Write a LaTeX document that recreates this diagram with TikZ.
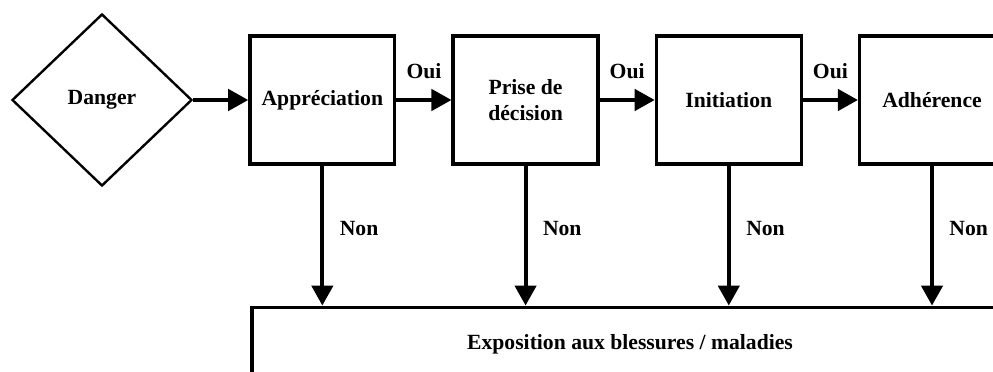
\documentclass[tikz,border=0pt]{standalone}
\usepackage{fontspec}
\setmainfont{Liberation Serif}
\usetikzlibrary{positioning,shapes.geometric,arrows.meta}

\begin{document}
\begin{tikzpicture}[
  x=0.025cm, y=-0.025cm,
  node distance=1.375cm,
  font=\fontsize{15.4}{18}\selectfont\bfseries,
  etape/.style={draw, rectangle, line width=2.4pt, minimum width=3.62cm, minimum height=3.19cm, align=center, inner sep=2pt},
  danger/.style={draw, diamond, line width=1.7pt, minimum width=4.5cm, minimum height=4.3cm, inner sep=0pt},
  expo/.style={draw, rectangle, line width=2.4pt, minimum width=18.9cm, minimum height=1.85cm},
  fleche/.style={-{Triangle[length=0.5cm, width=0.53cm]}, line width=2.8pt}
]
  \clip (0,0) rectangle (993,372);

  % Nodes
  \node[danger] (danger) at (102,100) {Danger};
  \node[etape, right=of danger] (app) {Appréciation};
  \node[etape, right=of app] (prise) {Prise de\\décision};
  \node[etape, right=of prise] (init) {Initiation};
  \node[etape, right=of init] (adh) {Adhérence};
  \node[expo, below=3.5cm of app.south west, anchor=north west, xshift=0.05cm] (expo) {Exposition aux blessures / maladies};

  % Arrows
  \draw[fleche] (danger) -- (app);
  \draw[fleche] (app) -- node[above=0.37cm] {Oui} (prise);
  \draw[fleche] (prise) -- node[above=0.37cm] {Oui} (init);
  \draw[fleche] (init) -- node[above=0.37cm] {Oui} (adh);
  \foreach \n in {app,prise,init,adh}
    \draw[fleche] (\n.south) -- node[pos=0.45, right=0.27cm] {Non} (\n.south |- expo.north);
\end{tikzpicture}
\end{document}
